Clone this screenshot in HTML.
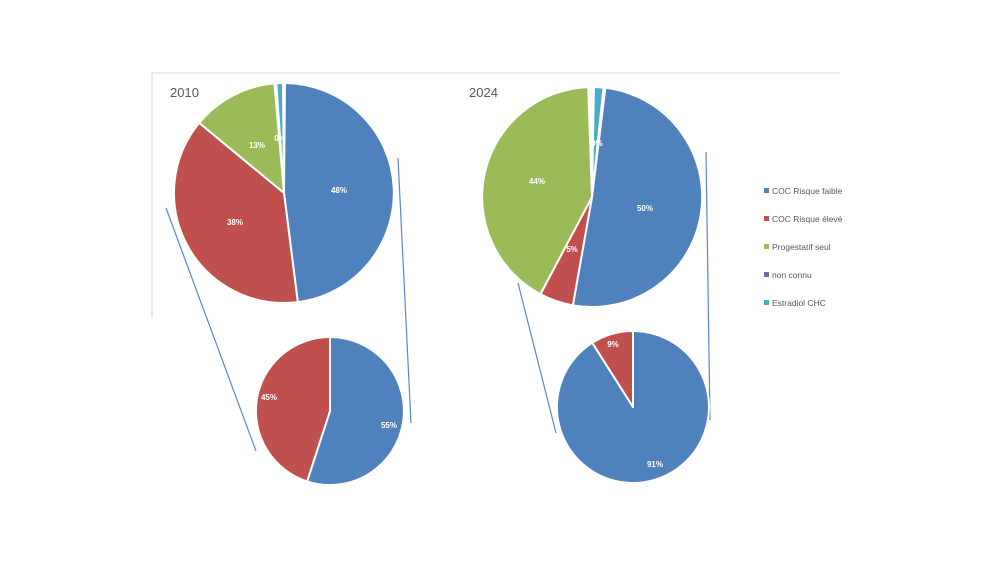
<!DOCTYPE html>
<html><head><meta charset="utf-8"><style>
html,body{margin:0;padding:0;background:#fff;}
svg{display:block;font-family:"Liberation Sans",sans-serif;}
</style></head><body>
<svg width="1000" height="563" viewBox="0 0 1000 563">
<rect width="1000" height="563" fill="#fff"/>
<path d="M152 318 V73 H840" fill="none" stroke="#e6e6e6" stroke-width="1.5"/>
<text x="170" y="97" font-size="13" fill="#595959">2010</text>
<text x="469" y="97" font-size="13" fill="#595959">2024</text>
<g stroke="#5b87c2" stroke-width="1.2">
<line x1="166" y1="208" x2="256" y2="451"/>
<line x1="398" y1="158" x2="411" y2="423"/>
<line x1="518" y1="283" x2="556" y2="433"/>
<line x1="706" y1="152" x2="710" y2="420"/>
</g>
<g stroke="#fff" stroke-width="2" stroke-linejoin="round">
<path d="M284 193 L285 83 A110 110 0 0 1 297.8 302.1 Z" fill="#4F81BD"/>
<path d="M284 193 L297.8 302.1 A110 110 0 0 1 199.2 122.9 Z" fill="#C0504D"/>
<path d="M284 193 L199.2 122.9 A110 110 0 0 1 274.4 83.4 Z" fill="#9BBB59"/>
<path d="M284 193 L276.3 83.3 A110 110 0 0 1 283 83 Z" fill="#4BACC6"/>
<path d="M592 197 L605.4 87.8 A110 110 0 1 1 572.9 305.3 Z" fill="#4F81BD"/>
<path d="M592 197 L572.9 305.3 A110 110 0 0 1 540.4 294.1 Z" fill="#C0504D"/>
<path d="M592 197 L540.4 294.1 A110 110 0 0 1 588.2 87.1 Z" fill="#9BBB59"/>
<path d="M592 197 L593.9 87 A110 110 0 0 1 603.5 87.6 Z" fill="#4BACC6"/>
<path d="M330 411 L330 337 A74 74 0 1 1 307.1 481.4 Z" fill="#4F81BD"/>
<path d="M330 411 L307.1 481.4 A74 74 0 0 1 330 337 Z" fill="#C0504D"/>
<path d="M633 407 L633 331 A76 76 0 1 1 592.3 342.8 Z" fill="#4F81BD"/>
<path d="M633 407 L592.3 342.8 A76 76 0 0 1 633 331 Z" fill="#C0504D"/>
</g>
<g fill="#fff" font-size="8" font-weight="bold" text-anchor="middle">
<text x="339" y="193">48%</text>
<text x="235" y="225">38%</text>
<text x="257" y="148">13%</text>
<text x="280" y="141">0%</text>
<text x="645" y="211">50%</text>
<text x="537" y="184">44%</text>
<text x="572" y="252">5%</text>
<text x="597" y="146">0%</text>
<text x="269" y="400">45%</text>
<text x="389" y="428">55%</text>
<text x="613" y="347">9%</text>
<text x="655" y="467">91%</text>
</g>
<g font-size="8.5" fill="#595959">
<rect x="764" y="188" width="5" height="5" fill="#4F81BD"/><text x="772" y="194">COC Risque faible</text>
<rect x="764" y="216" width="5" height="5" fill="#C0504D"/><text x="772" y="222">COC Risque élevé</text>
<rect x="764" y="244" width="5" height="5" fill="#9BBB59"/><text x="772" y="250">Progestatif seul</text>
<rect x="764" y="272" width="5" height="5" fill="#8064A2"/><text x="772" y="278">non connu</text>
<rect x="764" y="300" width="5" height="5" fill="#4BACC6"/><text x="772" y="306">Estradiol CHC</text>
</g>
</svg>
</body></html>
